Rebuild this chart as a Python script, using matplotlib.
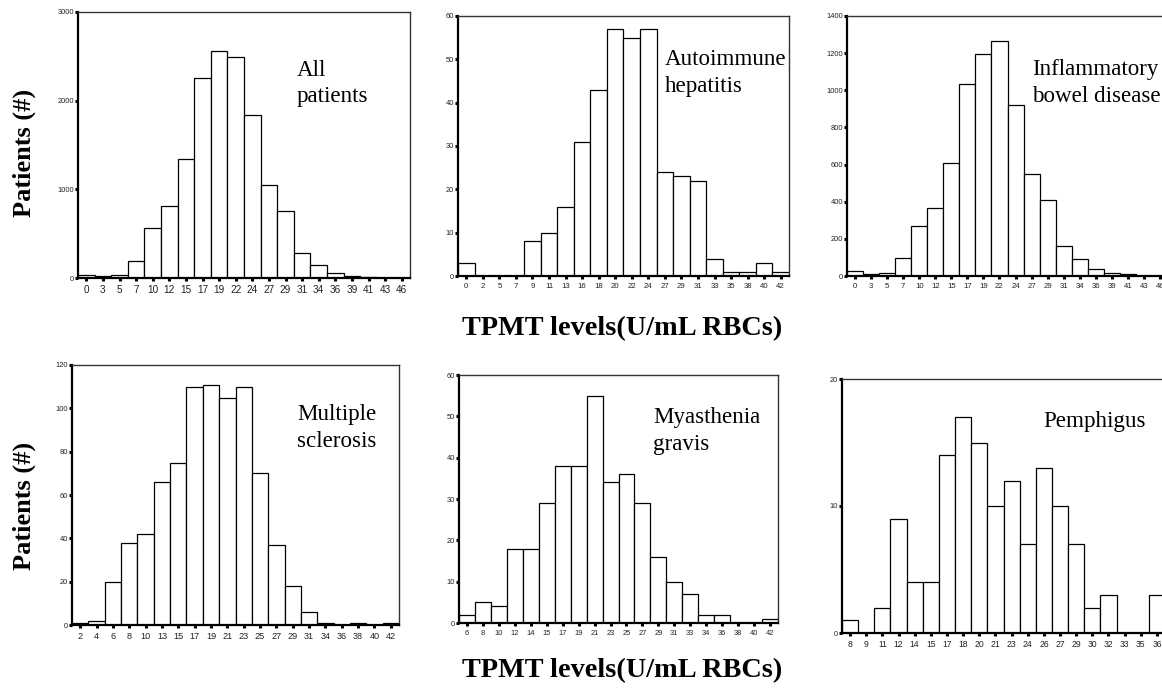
import matplotlib
matplotlib.use("Agg")
import matplotlib.pyplot as plt
import numpy as np

W, H = 1162, 688

# ---------------- data ----------------
all_labels = ["0", "3", "5", "7", "10", "12", "15", "17", "19", "22", "24", "27", "29", "31", "34", "36", "39", "41", "43", "46"]
all_counts = [38, 20, 38, 192, 568, 812, 1342, 2259, 2564, 2492, 1835, 1049, 752, 282, 147, 56, 23, 11, 3, 2]

aih_labels = ["0", "2", "5", "7", "9", "11", "13", "16", "18", "20", "22", "24", "27", "29", "31", "33", "35", "38", "40", "42"]
aih_counts = [3, 0, 0, 0, 8, 10, 16, 31, 43, 57, 55, 57, 24, 23, 22, 4, 1, 1, 3, 1]

ibd_labels = ["0", "3", "5", "7", "10", "12", "15", "17", "19", "22", "24", "27", "29", "31", "34", "36", "39", "41", "43", "46"]
ibd_counts = [25, 9, 16, 95, 268, 366, 609, 1036, 1193, 1265, 922, 550, 409, 160, 92, 36, 16, 9, 0, 0]

ms_labels = ["2", "4", "6", "8", "10", "13", "15", "17", "19", "21", "23", "25", "27", "29", "31", "34", "36", "38", "40", "42"]
ms_counts = [1, 2, 20, 38, 42, 66, 75, 110, 111, 105, 110, 70, 37, 18, 6, 1, 0, 1, 0, 1]

mg_labels = ["6", "8", "10", "12", "14", "15", "17", "19", "21", "23", "25", "27", "29", "31", "33", "34", "36", "38", "40", "42"]
mg_counts = [2, 5, 4, 18, 18, 29, 38, 38, 55, 34, 36, 29, 16, 10, 7, 2, 2, 0, 0, 1]

pem_labels = ["8", "9", "11", "12", "14", "15", "17", "18", "20", "21", "23", "24", "26", "27", "29", "30", "32", "33", "35", "36"]
pem_counts = [1, 0, 2, 9, 4, 4, 14, 17, 15, 10, 12, 7, 13, 10, 7, 2, 3, 0, 0, 3]

titles = [["All", "patients"], ["Autoimmune", "hepatitis"], ["Inflammatory", "bowel disease"],
          ["Multiple", "sclerosis"], ["Myasthenia", "gravis"], ["Pemphigus"]]
yticks = [[0, 1000, 2000, 3000], list(range(0, 61, 10)), list(range(0, 1401, 200)),
          list(range(0, 121, 20)), list(range(0, 61, 10)), [0, 10, 20]]
ylims = [3000, 60, 1400, 120, 60, 20]
ylabel_text = "Patients (#)"
xlabel_text = "TPMT levels(U/mL RBCs)"

panels = [
    (all_labels, all_counts), (aih_labels, aih_counts), (ibd_labels, ibd_counts),
    (ms_labels, ms_counts), (mg_labels, mg_counts), (pem_labels, pem_counts),
]

# axes boxes in pixels: left, right, top, bottom
boxes = [
    (78, 410, 12, 278),
    (458, 789, 16, 276),
    (847, 1168, 16, 276),
    (72, 399, 365, 625),
    (459, 778, 375, 623),
    (842, 1165, 379, 633),
]
xtick_sizes = [7.2, 5.6, 5.6, 6.6, 5.4, 6.2]
# title positions: left x, baseline of first line, line spacing (px)
title_pos = [(297, 76, 26), (665, 65, 27), (1032, 75, 27),
             (297, 420, 27), (653, 423, 27), (1043, 427, 27)]

fig = plt.figure(figsize=(W / 100, H / 100), dpi=100)
fig.patch.set_facecolor("white")

sans = "Liberation Sans"
serif = "Liberation Serif"

for i, ((labels, counts), (l, r, t, b)) in enumerate(zip(panels, boxes)):
    ax = fig.add_axes([l / W, 1 - b / H, (r - l) / W, (b - t) / H])
    x = np.arange(len(labels))
    ax.bar(x, counts, width=1.0, color="white", edgecolor="black", linewidth=0.9, zorder=2)
    ax.set_xlim(-0.5, len(labels) - 0.5)
    ax.set_ylim(0, ylims[i])
    ax.set_xticks(x)
    ax.set_xticklabels(labels, fontsize=xtick_sizes[i], family=sans, color="#222222")
    ax.set_yticks(yticks[i])
    ax.set_yticklabels([str(v) for v in yticks[i]], fontsize=5.4, family=sans, color="#222222")
    ax.tick_params(axis="x", direction="out", length=2.5, width=2.2, pad=2.5, color="black")
    ax.tick_params(axis="y", direction="out", length=2.0, width=2.2, pad=1.0, color="black")
    for s in ["left", "bottom"]:
        ax.spines[s].set_linewidth(1.6)
        ax.spines[s].set_color("black")
    for s in ["top", "right"]:
        ax.spines[s].set_linewidth(1.0)
        ax.spines[s].set_color("#333333")
    ax.set_facecolor("white")

    tx, ty, dy = title_pos[i]
    for k, line in enumerate(titles[i]):
        fig.text(tx / W, 1 - (ty + k * dy) / H, line, family=serif, fontsize=16.6,
                 ha="left", va="baseline", color="black")

# shared axis labels
for cy in (153, 506):
    fig.text(24 / W, 1 - cy / H, ylabel_text, rotation=90, family=serif, fontweight="bold",
             fontsize=19.0, ha="center", va="center")
for by in (335, 677):
    fig.text(622 / W, 1 - by / H, xlabel_text, family=serif, fontweight="bold",
             fontsize=20.3, ha="center", va="baseline")

fig.savefig("out.png", dpi=100, facecolor="white")
